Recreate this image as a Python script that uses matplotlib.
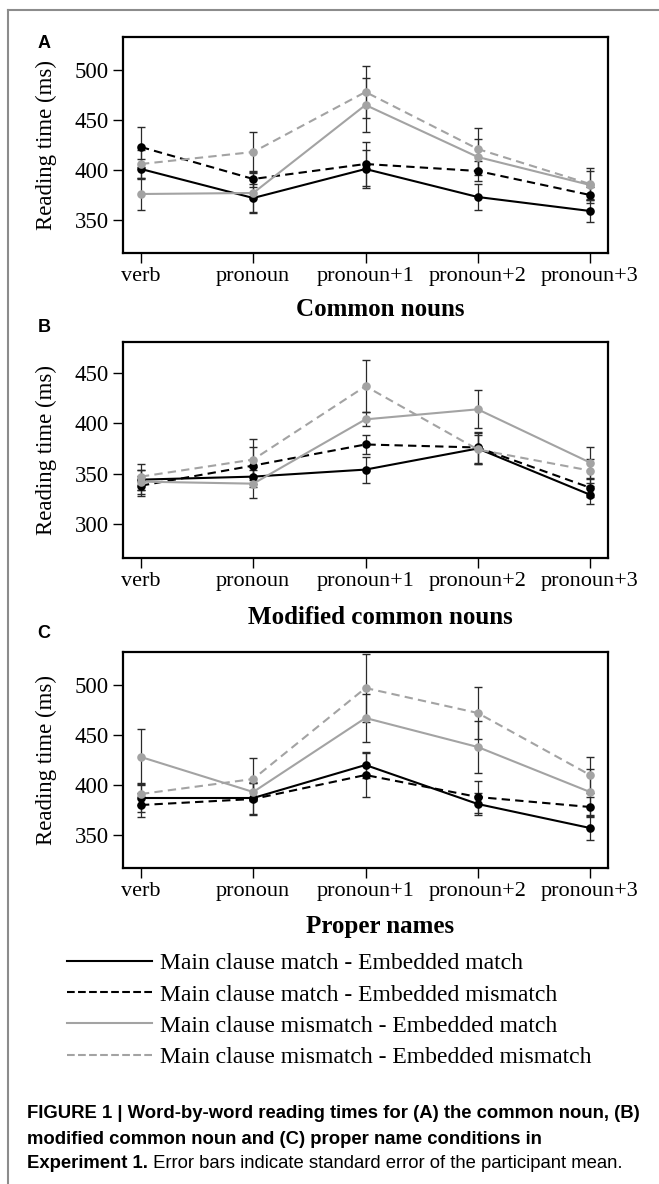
import numpy as np
from matplotlib import pyplot as plt
from matplotlib.lines import Line2D

# Data:

words = ['verb', 'pronoun', 'pronoun+1', 'pronoun+2', 'pronoun+3']
cond_labels = ['Main clause match - Embedded match',
               'Main clause match - Embedded mismatch',
               'Main clause mismatch - Embedded match',
               'Main clause mismatch - Embedded mismatch']

# (A) common nouns
A_mm = [401, 372, 401, 373, 359]
A_mmis = [423, 391, 406, 399, 375]
A_mism = [376, 377, 465, 413, 385]
A_mismis = [406, 418, 478, 421, 386]
A_se_mm = [10, 14, 19, 13, 11]
A_se_mmis = [20, 8, 22, 10, 8]
A_se_mism = [16, 20, 27, 18, 14]
A_se_mismis = [14, 20, 26, 21, 16]

# (B) modified common nouns
B_mm = [344, 347, 354, 375, 329]
B_mmis = [338, 358, 379, 376, 336]
B_mism = [342, 340, 404, 414, 361]
B_mismis = [347, 364, 437, 374, 353]
B_se_mm = [10, 10, 13, 15, 9]
B_se_mmis = [10, 18, 9, 15, 9]
B_se_mism = [12, 14, 7, 19, 15]
B_se_mismis = [13, 20, 26, 14, 12]

# (C) proper names
C_mm = [387, 387, 420, 381, 357]
C_mmis = [380, 386, 410, 388, 378]
C_mism = [428, 393, 467, 438, 393]
C_mismis = [391, 406, 497, 472, 410]
C_se_mm = [14, 16, 13, 11, 12]
C_se_mmis = [12, 16, 22, 16, 10]
C_se_mism = [28, 9, 24, 26, 23]
C_se_mismis = [11, 21, 34, 26, 18]

W, H = 659, 1184
serif = 'Liberation Serif'
grey = '#a3a3a3'
styles = [('black', '-'), ('black', '--'), (grey, '-'), (grey, '--')]

fig = plt.figure(figsize=(W / 100, H / 100), dpi=100)

# open frame round the figure (top and left only)
fig.add_artist(Line2D([8 / W, 1], [1 - 10 / H, 1 - 10 / H], transform=fig.transFigure, color='#8c8c8c', lw=1.5))
fig.add_artist(Line2D([8 / W, 8 / W], [0, 1 - 10 / H], transform=fig.transFigure, color='#8c8c8c', lw=1.5))


def drawPanel(top_px, means, errs, ylim, yticks, letter, letter_px, title, title_px):
    ax = fig.add_axes([123 / W, 1 - (top_px + 216) / H, 485 / W, 216 / H])
    x = np.arange(1, len(words) + 1)
    handles = []
    for m, e, (c, ls) in zip(means, errs, styles):
        ax.errorbar(x, m, yerr=e, fmt='none', ecolor='#2a2a2a', elinewidth=0.9, capsize=3, capthick=1,
                    zorder=2)
        ln, = ax.plot(x, m, color=c, linestyle=ls, lw=1.5, dashes=(4, 2.5) if ls == '--' else (None, None),
                      marker='o', markersize=6.2, markeredgewidth=0, zorder=3)
        handles.append(ln)
    ax.set_xlim(0.84, 5.16)
    ax.set_ylim(*ylim)
    ax.set_xticks(x)
    ax.set_xticklabels(words, family=serif, fontsize=16)
    ax.set_yticks(yticks)
    ax.set_yticklabels([str(t) for t in yticks], family=serif, fontsize=16.5)
    ax.tick_params(direction='out', length=7, width=1, pad=3)
    for sp in ax.spines.values():
        sp.set_linewidth(1.6)
    ax.set_ylabel('Reading time (ms)', family=serif, fontsize=16.5, labelpad=13)
    fig.text(44 / W, 1 - letter_px / H, letter, family='Liberation Sans', fontweight='bold', fontsize=13,
             ha='center', va='center')
    fig.text(380 / W, 1 - title_px / H, title, family=serif, fontweight='bold', fontsize=18, ha='center',
             va='center')
    return handles


drawPanel(37, [A_mm, A_mmis, A_mism, A_mismis], [A_se_mm, A_se_mmis, A_se_mism, A_se_mismis],
          (317, 533), [350, 400, 450, 500], 'A', 43, 'Common nouns', 310)
drawPanel(342, [B_mm, B_mmis, B_mism, B_mismis], [B_se_mm, B_se_mmis, B_se_mism, B_se_mismis],
          (266, 481), [300, 350, 400, 450], 'B', 328, 'Modified common nouns', 618)
handles = drawPanel(652, [C_mm, C_mmis, C_mism, C_mismis], [C_se_mm, C_se_mmis, C_se_mism, C_se_mismis],
                    (317, 533), [350, 400, 450, 500], 'C', 633, 'Proper names', 927)

leg_handles = [Line2D([], [], color=h.get_color(), linestyle=h.get_linestyle(), lw=1.5) for h in handles]
leg = fig.legend(leg_handles, cond_labels, loc='upper left', bbox_to_anchor=(55 / W, 1 - 941 / H),
                 frameon=False, handlelength=3.6, handletextpad=0.35, labelspacing=0.41, borderpad=0,
                 prop={'family': serif, 'size': 17})

# caption
cap_font = ['Liberation Sans Narrow', 'Liberation Sans']
fig.text(27 / W, 1 - 1113 / H, 'FIGURE 1 | Word-by-word reading times for (A) the common noun, (B)',
         family=cap_font, fontweight='bold', fontsize=13.3, va='center')
fig.text(27 / W, 1 - 1139 / H, 'modified common noun and (C) proper name conditions in',
         family=cap_font, fontweight='bold', fontsize=13.3, va='center')
bold_part = fig.text(27 / W, 1 - 1163 / H, 'Experiment 1.', family=cap_font, fontweight='bold', fontsize=13.3,
                     va='center')
plt.annotate(' Error bars indicate standard error of the participant mean.', xy=(1, 0.5), xycoords=bold_part,
             va='center', ha='left', family=cap_font, fontsize=13.3)

plt.savefig('out.png', dpi=100)
